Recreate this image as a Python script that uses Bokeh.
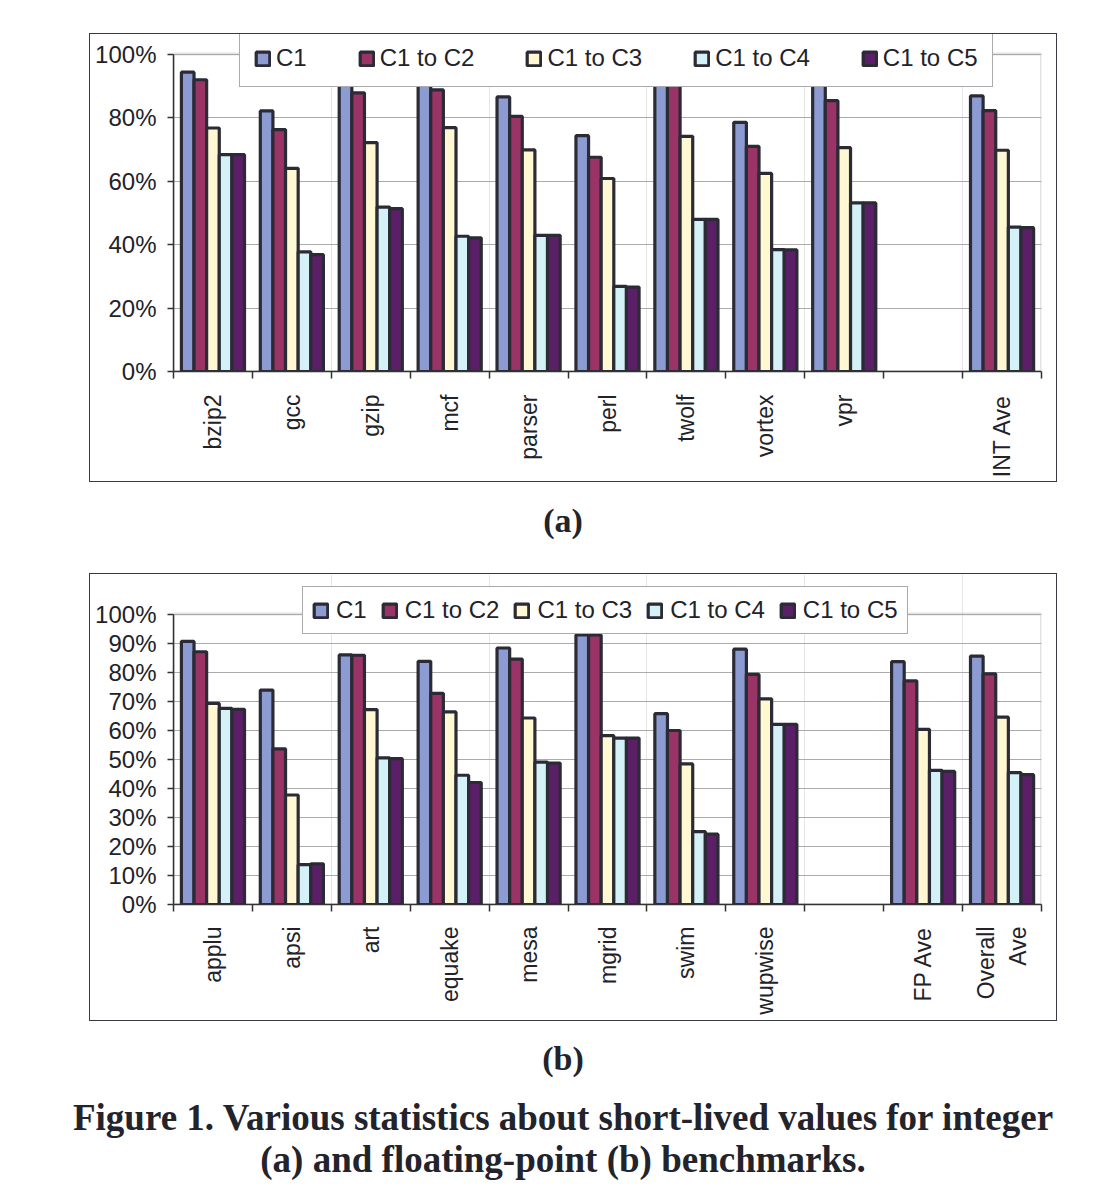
import math
from bokeh.plotting import figure
from bokeh.models import (Range1d, FixedTicker, PrintfTickFormatter, LinearAxis,
                          Legend, LegendItem, Div, Grid, BoxAnnotation)
from bokeh.layouts import column
from bokeh.embed import file_html
from bokeh.resources import INLINE

# ---------------- data ----------------
series = ["C1", "C1 to C2", "C1 to C3", "C1 to C4", "C1 to C5"]
colors = ["#8C9CD2", "#9A3366", "#FFF8D2", "#D3F1F6", "#5B1F68"]

int_cats = ["bzip2", "gcc", "gzip", "mcf", "parser", "perl", "twolf", "vortex", "vpr", "", "INT Ave"]
int_c1 = [94.3, 82.1, 92.5, 91.5, 86.5, 74.3, 93.0, 78.5, 91.5, None, 86.8]
int_c2 = [91.9, 76.2, 87.8, 88.7, 80.4, 67.5, 91.1, 70.9, 85.3, None, 82.2]
int_c3 = [76.7, 64.0, 72.1, 76.8, 69.8, 60.8, 74.1, 62.4, 70.5, None, 69.7]
int_c4 = [68.3, 37.7, 51.8, 42.6, 42.9, 26.8, 47.9, 38.4, 53.1, None, 45.5]
int_c5 = [68.3, 36.8, 51.3, 42.1, 42.9, 26.6, 47.9, 38.3, 53.1, None, 45.3]
int_yticks = [0, 20, 40, 60, 80, 100]

fp_cats = ["applu", "apsi", "art", "equake", "mesa", "mgrid", "swim", "wupwise", "", "FP Ave", "Overall\nAve"]
fp_c1 = [90.6, 73.8, 85.9, 83.7, 88.3, 92.8, 65.7, 87.9, None, 83.6, 85.5]
fp_c2 = [87.0, 53.6, 85.8, 72.7, 84.5, 92.8, 59.9, 79.2, None, 77.0, 79.4]
fp_c3 = [69.2, 37.7, 67.1, 66.3, 64.2, 58.1, 48.4, 70.8, None, 60.3, 64.5]
fp_c4 = [67.5, 13.7, 50.5, 44.5, 49.0, 57.3, 25.1, 62.0, None, 46.2, 45.4]
fp_c5 = [67.2, 14.0, 50.2, 42.0, 48.7, 57.3, 24.2, 62.0, None, 45.8, 44.7]
fp_yticks = [0, 10, 20, 30, 40, 50, 60, 70, 80, 90, 100]

FONT = "Liberation Sans"
FS = "24px"
XFS = "23px"
TXT = "#222228"
EDGE = "#2B2B36"


def make_chart(cats, vals, yticks, width, height, borders, margin, ytop, leg):
    n = len(cats)
    bl, br, bt, bb = borders
    p = figure(width=width, height=height, x_range=Range1d(0, n), y_range=Range1d(0, ytop),
               output_backend="svg", toolbar_location=None,
               x_axis_location=None, y_axis_location=None,
               min_border_left=bl, min_border_right=br, min_border_top=bt, min_border_bottom=bb,
               styles={"outline": "1.5px solid #3a3a42", "outline-offset": "0px"})
    p.margin = margin
    p.outline_line_color = None
    p.background_fill_color = "white"
    p.border_fill_color = "white"

    grid = Grid(dimension=1, ticker=FixedTicker(ticks=yticks),
                grid_line_color="#ABABAB", grid_line_width=1)
    p.add_layout(grid)
    # grey plot-area wall (Excel style)
    p.add_layout(BoxAnnotation(left=0, right=n, bottom=0, top=100, fill_color=None,
                               line_color="#A3A3A3", line_width=3, level="underlay"))

    bw = 0.16
    renderers = []
    for k, s in enumerate(series):
        xs, tops = [], []
        for i, v in enumerate(vals[k]):
            if v is None:
                continue
            xs.append(i + 0.5 + (k - 2) * bw)
            tops.append(v)
        r = p.vbar(x=xs, top=tops, bottom=0, width=bw, fill_color=colors[k],
                   line_color=EDGE, line_width=3.2)
        renderers.append(r)

    # y axis
    yax = LinearAxis(ticker=FixedTicker(ticks=yticks), bounds=(0, 100),
                     formatter=PrintfTickFormatter(format="%d%%"),
                     major_tick_out=6, major_tick_in=0, minor_tick_out=0, minor_tick_in=0,
                     axis_line_color="#333", axis_line_width=1.5,
                     major_tick_line_color="#333", major_tick_line_width=1.5,
                     major_label_text_font=FONT, major_label_text_font_size=FS,
                     major_label_text_color=TXT, major_label_standoff=11)
    p.add_layout(yax, "left")

    # x axis: labels at slot centres, tick marks at slot boundaries
    centers = [i + 0.5 for i, c in enumerate(cats) if c]
    overrides = {i + 0.5: c for i, c in enumerate(cats) if c}
    xl = LinearAxis(ticker=FixedTicker(ticks=centers, minor_ticks=list(range(n + 1))),
                    major_label_overrides=overrides,
                    major_label_orientation=math.pi / 2,
                    major_tick_out=0, major_tick_in=0, minor_tick_out=7, minor_tick_in=0,
                    axis_line_color="#333", axis_line_width=1.5,
                    minor_tick_line_color="#333", minor_tick_line_width=1.5,
                    major_label_text_font=FONT, major_label_text_font_size=XFS,
                    major_label_text_color=TXT, major_label_standoff=leg["xstand"])
    p.add_layout(xl, "below")

    legend = Legend(items=[LegendItem(label=s, renderers=[r]) for s, r in zip(series, renderers)],
                    orientation="horizontal", location=leg["loc"], margin=0,
                    padding=leg["padding"], spacing=leg["spacing"],
                    label_standoff=leg["standoff"], glyph_width=17, glyph_height=17,
                    label_height=24,
                    label_text_font=FONT, label_text_font_size=FS, label_text_color=TXT,
                    border_line_color="#555560", border_line_width=1,
                    background_fill_color="white", background_fill_alpha=1.0)
    p.add_layout(legend)
    return p


fig_a = make_chart(int_cats, [int_c1, int_c2, int_c3, int_c4, int_c5], int_yticks,
                   width=966, height=447, borders=(82, 12, 0, 110), margin=(34, 0, 0, 90),
                   ytop=100 * 336 / 316.5,
                   leg={"loc": (66, 284), "padding": 14, "spacing": 51, "standoff": 5,
                        "xstand": 16})

fig_b = make_chart(fp_cats, [fp_c1, fp_c2, fp_c3, fp_c4, fp_c5], fp_yticks,
                   width=966, height=446, borders=(83, 15, 0, 116), margin=(33, 0, 0, 90),
                   ytop=100 * 330 / 290.5,
                   leg={"loc": (129, 270), "padding": 9, "spacing": 14, "standoff": 7,
                        "xstand": 15})

serif = {"font-family": "Liberation Serif", "font-weight": "bold", "color": "#23232b",
         "text-align": "center"}

div_a = Div(text="(a)", width=1086, height=40, margin=(20, 0, 0, 20),
            styles=dict(serif, **{"font-size": "34px", "line-height": "40px"}))
div_b = Div(text="(b)", width=1086, height=40, margin=(19, 0, 0, 20),
            styles=dict(serif, **{"font-size": "34px", "line-height": "40px"}))
div_cap = Div(text="Figure 1. Various statistics about short-lived values for integer<br>"
                   "(a) and floating-point (b) benchmarks.",
              width=1086, height=84, margin=(18, 0, 0, 20),
              styles=dict(serif, **{"font-size": "37px", "line-height": "42px",
                                    "white-space": "nowrap"}))

layout = column(fig_a, div_a, fig_b, div_b, div_cap, spacing=0)

with open("out.html", "w") as f:
    f.write(file_html(layout, INLINE))
